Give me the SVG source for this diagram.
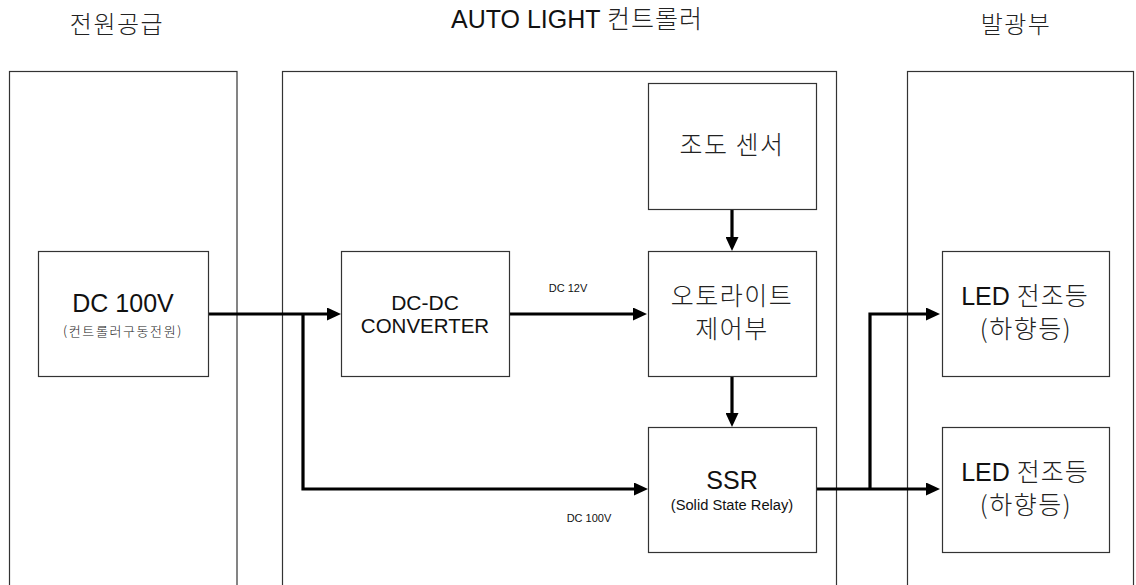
<svg xmlns="http://www.w3.org/2000/svg" width="1136" height="585" viewBox="0 0 1136 585">
<style>
.bg{fill:#fff}
.container{fill:none;stroke:#333;stroke-width:1.2}
.box{fill:#fff;stroke:#333;stroke-width:1.2}
.t{font-family:"Liberation Sans","Noto Sans CJK KR",sans-serif;fill:#111;text-anchor:middle}
.k{font-family:"Noto Sans CJK KR","Liberation Sans",sans-serif;font-weight:300;fill:#222;text-anchor:middle}
.kt{font-family:"Noto Sans CJK KR",sans-serif;font-weight:300;fill:#222}
.wire{fill:none;stroke:#000;stroke-width:3.2}
.arrow{fill:none;stroke:#000;stroke-width:3.2;marker-end:url(#ah)}
</style>
<defs>
<marker id="ah" markerUnits="userSpaceOnUse" viewBox="0 0 14 13" markerWidth="14" markerHeight="13" refX="9" refY="6.5" orient="auto">
<path d="M0,0 L14,6.5 L0,13 Z" fill="#000"/>
</marker>
</defs>
<rect class="bg" x="0" y="0" width="1136" height="585"/>

<g id="titles">
<text class="k" x="117" y="33" font-size="24" letter-spacing="1.5">전원공급</text>
<text class="t" x="577" y="28" font-size="25">AUTO LIGHT <tspan class="kt" letter-spacing="1">컨트롤러</tspan></text>
<text class="k" x="1016" y="33" font-size="24" letter-spacing="1.5">발광부</text>
</g>

<g id="containers">
<rect id="power-supply" class="container" x="9.5" y="71.5" width="227.5" height="530"/>
<rect id="controller" class="container" x="282.5" y="71.5" width="554" height="530"/>
<rect id="light-unit" class="container" x="907.5" y="71.5" width="226" height="530"/>
</g>

<g id="connectors">
<path class="arrow" d="M206,314 H336"/>
<path class="arrow" d="M303,314 V489 H643"/>
<path class="arrow" d="M509,314 H642"/>
<path class="arrow" d="M732,209 V246"/>
<path class="arrow" d="M732,376 V422"/>
<path class="arrow" d="M814,489 H935"/>
<path class="arrow" d="M870,489 V314 H935"/>
<text class="t" x="568" y="292" font-size="11">DC 12V</text>
<text class="t" x="589" y="522" font-size="11">DC 100V</text>
</g>

<g id="dc100v">
<rect class="box" x="38.5" y="251.5" width="170" height="125"/>
<text class="t" x="123" y="312" font-size="25">DC 100V</text>
<text class="k" x="123" y="336" font-size="13" letter-spacing="1.6">(컨트롤러구동전원)</text>
</g>

<g id="dcdc">
<rect class="box" x="341.5" y="251.5" width="168" height="125"/>
<text class="t" x="425" y="310" font-size="21">DC-DC</text>
<text class="t" x="425" y="333" font-size="20.5">CONVERTER</text>
</g>

<g id="sensor">
<rect class="box" x="648.5" y="83.5" width="168" height="126"/>
<text class="k" x="732" y="154" font-size="25" letter-spacing="1.5">조도 센서</text>
</g>

<g id="control">
<rect class="box" x="648.5" y="251.5" width="168" height="125"/>
<text class="k" x="732" y="305" font-size="25" letter-spacing="1.5">오토라이트</text>
<text class="k" x="732" y="338" font-size="25" letter-spacing="1.5">제어부</text>
</g>

<g id="ssr">
<rect class="box" x="648.5" y="427.5" width="168" height="125"/>
<text class="t" x="732" y="489" font-size="25">SSR</text>
<text class="t" x="732" y="510" font-size="14.7">(Solid State Relay)</text>
</g>

<g id="led1">
<rect class="box" x="942.5" y="251.5" width="167" height="125"/>
<text class="t" x="1025" y="305" font-size="25">LED <tspan class="kt" letter-spacing="1">전조등</tspan></text>
<text class="k" x="1026" y="338" font-size="25" letter-spacing="1.5">(하향등)</text>
</g>

<g id="led2">
<rect class="box" x="942.5" y="427.5" width="167" height="125"/>
<text class="t" x="1025" y="481" font-size="25">LED <tspan class="kt" letter-spacing="1">전조등</tspan></text>
<text class="k" x="1026" y="514" font-size="25" letter-spacing="1.5">(하향등)</text>
</g>
</svg>
